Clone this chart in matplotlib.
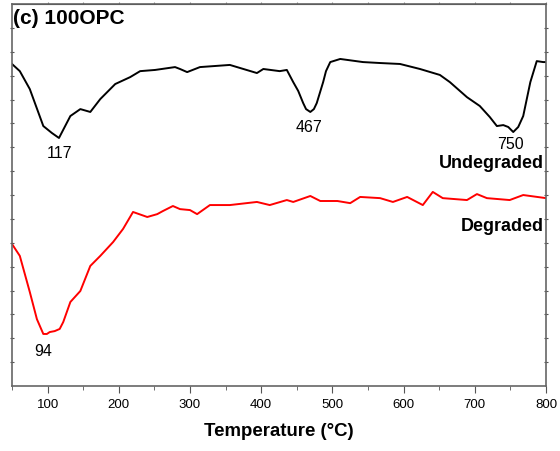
import numpy as np
import matplotlib.pyplot as plt

plt.rcParams['font.family'] = ['Liberation Sans', 'DejaVu Sans']

# DTG curves (arbitrary units)
temp_undeg = [50, 61, 75, 94, 106, 116, 124, 132, 146, 160, 174, 195, 216, 230, 251,
              279, 286, 296, 314, 356, 394, 403, 426, 436, 445, 452, 459, 463, 469,
              474, 478, 487, 491, 497, 511, 543, 567, 595, 623, 651, 665, 689, 707,
              721, 731, 740, 747, 754, 761, 768, 778, 787, 796, 800]
dtg_undeg = [13.49, 13.19, 12.44, 10.89, 10.6, 10.39, 10.85, 11.31, 11.6, 11.48, 12.02,
             12.65, 12.94, 13.19, 13.24, 13.36, 13.28, 13.15, 13.36, 13.45, 13.11, 13.28,
             13.19, 13.24, 12.73, 12.36, 11.85, 11.6, 11.48, 11.6, 11.85, 12.73, 13.19,
             13.57, 13.7, 13.57, 13.53, 13.49, 13.28, 13.03, 12.73, 12.1, 11.73, 11.27,
             10.89, 10.93, 10.85, 10.64, 10.85, 11.31, 12.73, 13.61, 13.57, 13.57]

temp_deg = [50, 61, 75, 85, 94, 99, 103, 110, 117, 122, 132, 146, 160, 174, 192, 206,
            220, 240, 254, 262, 276, 286, 300, 310, 328, 356, 394, 412, 436, 445, 469,
            483, 507, 525, 539, 567, 585, 605, 627, 641, 655, 689, 703, 717, 749, 768,
            800]
dtg_deg = [5.95, 5.45, 3.94, 2.8, 2.18, 2.18, 2.26, 2.3, 2.39, 2.68, 3.52, 3.98, 5.03,
           5.45, 6.03, 6.58, 7.29, 7.08, 7.2, 7.33, 7.54, 7.41, 7.37, 7.2, 7.58, 7.58,
           7.71, 7.58, 7.79, 7.71, 7.96, 7.75, 7.75, 7.66, 7.92, 7.87, 7.71, 7.92, 7.58,
           8.13, 7.87, 7.79, 8.04, 7.87, 7.79, 8.0, 7.87]

fig = plt.figure(figsize=(5.6, 4.52), dpi=100)
ax = fig.add_axes([0.0214, 0.1438, 0.9536, 0.845])

ax.plot(temp_undeg, dtg_undeg, color='black', lw=1.4, solid_joinstyle='round')
ax.plot(temp_deg, dtg_deg, color='red', lw=1.4, solid_joinstyle='round')

ax.set_xlim(50, 800)
ax.set_ylim(0, 16)
ax.set_xticks(np.arange(100, 801, 100))
ax.set_xticks(np.arange(50, 801, 100), minor=True)
ax.set_yticks(np.arange(1, 16, 1))
ax.set_yticklabels([])
ax.tick_params(axis='x', which='major', direction='out', length=5, labelsize=9.5,
               color='#555555')
ax.tick_params(axis='x', which='minor', direction='out', length=3, color='#555555')
ax.tick_params(axis='y', direction='inout', length=3, color='#555555', left=True, right=True)
for s in ax.spines.values():
    s.set_color('#666666')
    s.set_linewidth(1.2)

top = ax.secondary_xaxis('top')
top.set_xticks(np.arange(100, 801, 50))
top.set_xticklabels([])
top.tick_params(direction='out', length=1.5, color='#888888')
top.spines['top'].set_color('#333333')

ax.set_xlabel('Temperature (°C)', fontsize=13.4, fontweight='bold', labelpad=9)

ax.text(52, 15.45, '(c) 100OPC', fontsize=15, fontweight='bold', va='center')
ax.text(117, 9.8, '117', fontsize=11.5, ha='center', va='center')
ax.text(467, 10.89, '467', fontsize=11.5, ha='center', va='center')
ax.text(750, 10.14, '750', fontsize=11.5, ha='center', va='center')
ax.text(94, 1.47, '94', fontsize=11.5, ha='center', va='center')
ax.text(797, 9.37, 'Undegraded', fontsize=13, fontweight='bold', ha='right', va='center')
ax.text(797, 6.74, 'Degraded', fontsize=13, fontweight='bold', ha='right', va='center')

plt.savefig('out.png', dpi=100)
